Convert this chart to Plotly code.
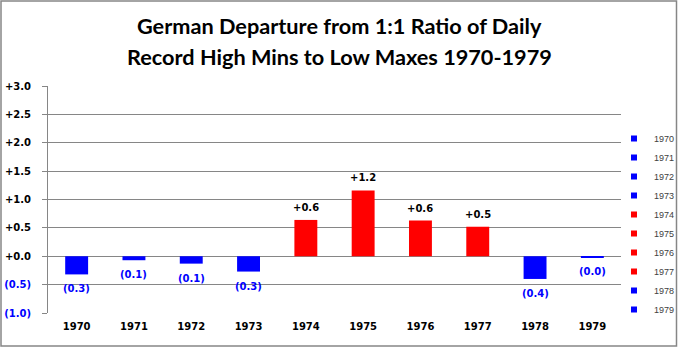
import plotly.graph_objects as go

years = ["1970", "1971", "1972", "1973", "1974", "1975", "1976", "1977", "1978", "1979"]
values = [-0.32, -0.07, -0.13, -0.27, 0.64, 1.16, 0.63, 0.52, -0.40, -0.02]
y_tick_vals = [-1.0, -0.5, 0.0, 0.5, 1.0, 1.5, 2.0, 2.5, 3.0]
title_lines = ["German Departure from 1:1 Ratio of Daily",
               "Record High Mins to Low Maxes 1970-1979"]

BLUE = "#0000FF"
RED = "#FF0000"
GRID = "#868686"
FONT = "DejaVu Sans"

def fmt(v):
    if v > 0:
        return "+%.1f" % v
    if v == 0:
        return "+0.0"
    return "(%.1f)" % abs(v)

def tick_fmt(v):
    if v >= 0:
        return "+%.1f" % v
    return "<span style='color:%s'>(%.1f)</span>" % (BLUE, abs(v))

xs = list(range(len(years)))
fig = go.Figure()
for i, (yr, v) in enumerate(zip(years, values)):
    col = RED if v > 0 else BLUE
    fig.add_trace(go.Bar(x=[i], y=[v], width=0.4, marker=dict(color=col, line=dict(width=0)),
                         showlegend=False, name=yr))
for i, (yr, v) in enumerate(zip(years, values)):
    col = RED if v > 0 else BLUE
    fig.add_trace(go.Scatter(x=[None], y=[None], mode="markers", name=yr,
                             marker=dict(symbol="square", size=6, color=col)))

L, R, T, B = 48, 57, 86, 35
W, H = 678, 348
pw, ph = W - L - R, H - T - B
def px2x(px):
    return (px - L) / pw
def py2y(py):
    return (H - B - py) / ph

annotations = []
for i, v in enumerate(values):
    pos = v > 0
    annotations.append(dict(
        x=i, y=v, xref="x", yref="y", text=fmt(v), showarrow=False,
        yanchor="bottom" if pos else "top", yshift=5 if pos else -7,
        font=dict(family=FONT, size=10, color="#000000" if pos else BLUE, weight="bold")))

title_centers = [25.5, 57]
for line, cy in zip(title_lines, title_centers):
    annotations.append(dict(
        x=px2x(339), y=py2y(cy), xref="paper", yref="paper", text=line, showarrow=False,
        xanchor="center", yanchor="middle",
        font=dict(family="Lato", size=21.7, color="#000000", weight="bold")))

fig.update_layout(
    width=W, height=H,
    margin=dict(l=L, r=R, t=T, b=B, autoexpand=False),
    paper_bgcolor="white", plot_bgcolor="white",
    barmode="overlay",
    xaxis=dict(range=[-0.5, len(years) - 0.5], tickvals=xs, ticktext=years,
               showgrid=False, zeroline=False, showline=False,
               ticks="outside", ticklen=4, tickcolor="rgba(0,0,0,0)",
               tickfont=dict(family=FONT, size=10, color="#000000", weight="bold")),
    xaxis2=dict(range=[-0.5, len(years) - 0.5], overlaying="x", anchor="free", position=0.25,
                side="bottom", tickvals=[i - 0.5 for i in range(len(years) + 1)],
                showticklabels=False, ticks="outside", ticklen=5, tickcolor=GRID,
                showline=True, linecolor=GRID, linewidth=1, showgrid=False, zeroline=False),
    yaxis=dict(range=[-1.0, 3.0], tickvals=y_tick_vals, ticktext=[tick_fmt(v) for v in y_tick_vals],
               showgrid=True, gridcolor=GRID, gridwidth=1, zeroline=False,
               showline=True, linecolor=GRID, linewidth=1, mirror=False,
               ticks="outside", ticklen=5, tickcolor=GRID, ticklabelstandoff=9,
               tickfont=dict(family=FONT, size=10, color="#000000", weight="bold")),
    legend=dict(x=px2x(614), y=py2y(124), xanchor="left", yanchor="top",
                font=dict(family="Liberation Sans", size=9, color="#404040"),
                bgcolor="rgba(0,0,0,0)", borderwidth=0, tracegroupgap=0),
    annotations=annotations,
    shapes=[dict(type="rect", xref="paper", yref="paper",
                 x0=px2x(1), x1=px2x(676.5), y0=py2y(346), y1=py2y(1),
                 line=dict(color=GRID, width=1.5), fillcolor="rgba(0,0,0,0)", layer="below")],
    showlegend=True,
)
fig.write_html("out.html")
